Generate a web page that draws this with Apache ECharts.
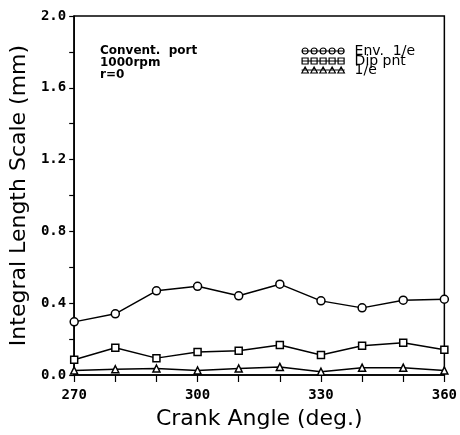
<!DOCTYPE html>
<html>
<head>
<meta charset="utf-8">
<script src="https://cdn.jsdelivr.net/npm/echarts@6/dist/echarts.min.js"></script>
<style>
  html, body {margin: 0; padding: 0; background: #fff;}
  #chart {width: 460px; height: 435px;}
</style>
</head>
<body>
<div id="chart"></div>
<script>
// crank angle (deg.)
const angles = [270, 280, 290, 300, 310, 320, 330, 340, 350, 360];
// integral length scale (mm)
const envValues = [0.296, 0.341, 0.469, 0.494, 0.441, 0.506, 0.413, 0.374, 0.417, 0.422];
const dipValues = [0.085, 0.152, 0.094, 0.128, 0.135, 0.167, 0.111, 0.163, 0.180, 0.141];
const eValues = [0.025, 0.032, 0.036, 0.025, 0.036, 0.045, 0.018, 0.041, 0.041, 0.025];
const seriesNames = ['Env.  1/e', 'Dip pnt', '1/e'];
const seriesSymbols = ['circle', 'rect', 'triangle'];
const seriesSizes = [8, 7, 7];

const chart = echarts.init(document.getElementById('chart'));

const toPairs = (vals) => vals.map((v, i) => [angles[i], v]);
const allValues = [envValues, dipValues, eValues];

const series = allValues.map((vals, i) => ({
  name: seriesNames[i],
  type: 'line',
  data: toPairs(vals),
  symbol: seriesSymbols[i],
  symbolSize: seriesSizes[i],
  showAllSymbol: true,
  lineStyle: {color: '#000', width: 1.5},
  itemStyle: {color: '#fff', borderColor: '#000', borderWidth: 1.5},
  emphasis: {disabled: true},
  z: 3 - i
}));

// legend sample: a row of five markers joined by a line (like the plotter key)
const keyPath = (kind) => {
  let d = 'M0,3.5 L43,3.5 ';
  for (let k = 0; k < 5; k++) {
    const cx = 3.5 + k * 9;
    if (kind === 'circle') {
      d += `M${cx - 3},3.5 A3,3 0 1,1 ${cx + 3},3.5 A3,3 0 1,1 ${cx - 3},3.5 Z `;
    } else if (kind === 'rect') {
      d += `M${cx - 3},0.5 L${cx + 3},0.5 L${cx + 3},6.5 L${cx - 3},6.5 Z `;
    } else {
      d += `M${cx - 3.3},6.5 L${cx},0.5 L${cx + 3.3},6.5 Z `;
    }
  }
  return 'path://' + d;
};

const legendTops = [44, 54, 63];
const legends = seriesNames.map((name, i) => ({
  left: 301, top: legendTops[i],
  padding: 0,
  itemWidth: 43, itemHeight: 7,
  itemGap: 0,
  icon: keyPath(seriesSymbols[i]),
  itemStyle: {color: '#fff', borderColor: '#000', borderWidth: 1.2},
  textStyle: {fontFamily: 'DejaVu Sans', fontSize: 14, color: '#000', padding: [0, 0, 0, 5]},
  selectedMode: false,
  data: [name]
}));

const labelFont = {
  color: '#000',
  fontFamily: 'DejaVu Sans Mono',
  fontWeight: 'bold',
  fontSize: 14
};

const option = {
  animation: false,
  backgroundColor: '#fff',
  grid: {
    left: 72, right: 12, top: 16, bottom: 49,
    show: true, borderColor: '#000', borderWidth: 1.5
  },
  title: {
    text: 'Convent.  port\n1000rpm\nr=0',
    left: 100, top: 45,
    padding: 0,
    textStyle: {
      fontFamily: 'DejaVu Sans', fontWeight: 'bold',
      fontSize: 12, lineHeight: 12, color: '#000'
    }
  },
  legend: legends,
  xAxis: {
    type: 'value',
    min: 270, max: 360, interval: 10,
    name: 'Crank Angle (deg.)',
    nameLocation: 'middle',
    nameGap: 33,
    nameTextStyle: {fontFamily: 'DejaVu Sans', fontSize: 22, color: '#000'},
    axisLine: {lineStyle: {color: '#000', width: 1.5}},
    axisTick: {length: 7, lineStyle: {color: '#000', width: 1.2}},
    axisLabel: Object.assign({
      margin: 13,
      formatter: (v) => (v % 30 === 0 ? String(v) : '')
    }, labelFont),
    splitLine: {show: false}
  },
  yAxis: {
    type: 'value',
    min: 0, max: 2, interval: 0.4,
    name: 'Integral Length Scale (mm)',
    nameLocation: 'middle',
    nameGap: 39,
    nameTextStyle: {fontFamily: 'DejaVu Sans', fontSize: 22, color: '#000'},
    axisLine: {lineStyle: {color: '#000', width: 1.5}},
    axisTick: {length: 5, lineStyle: {color: '#000', width: 1.2}},
    minorTick: {show: true, splitNumber: 2, length: 5, lineStyle: {color: '#000', width: 1.2}},
    axisLabel: Object.assign({
      margin: 8,
      formatter: (v) => v.toFixed(1)
    }, labelFont),
    splitLine: {show: false}
  },
  series: series
};

chart.setOption(option);
</script>
</body>
</html>
